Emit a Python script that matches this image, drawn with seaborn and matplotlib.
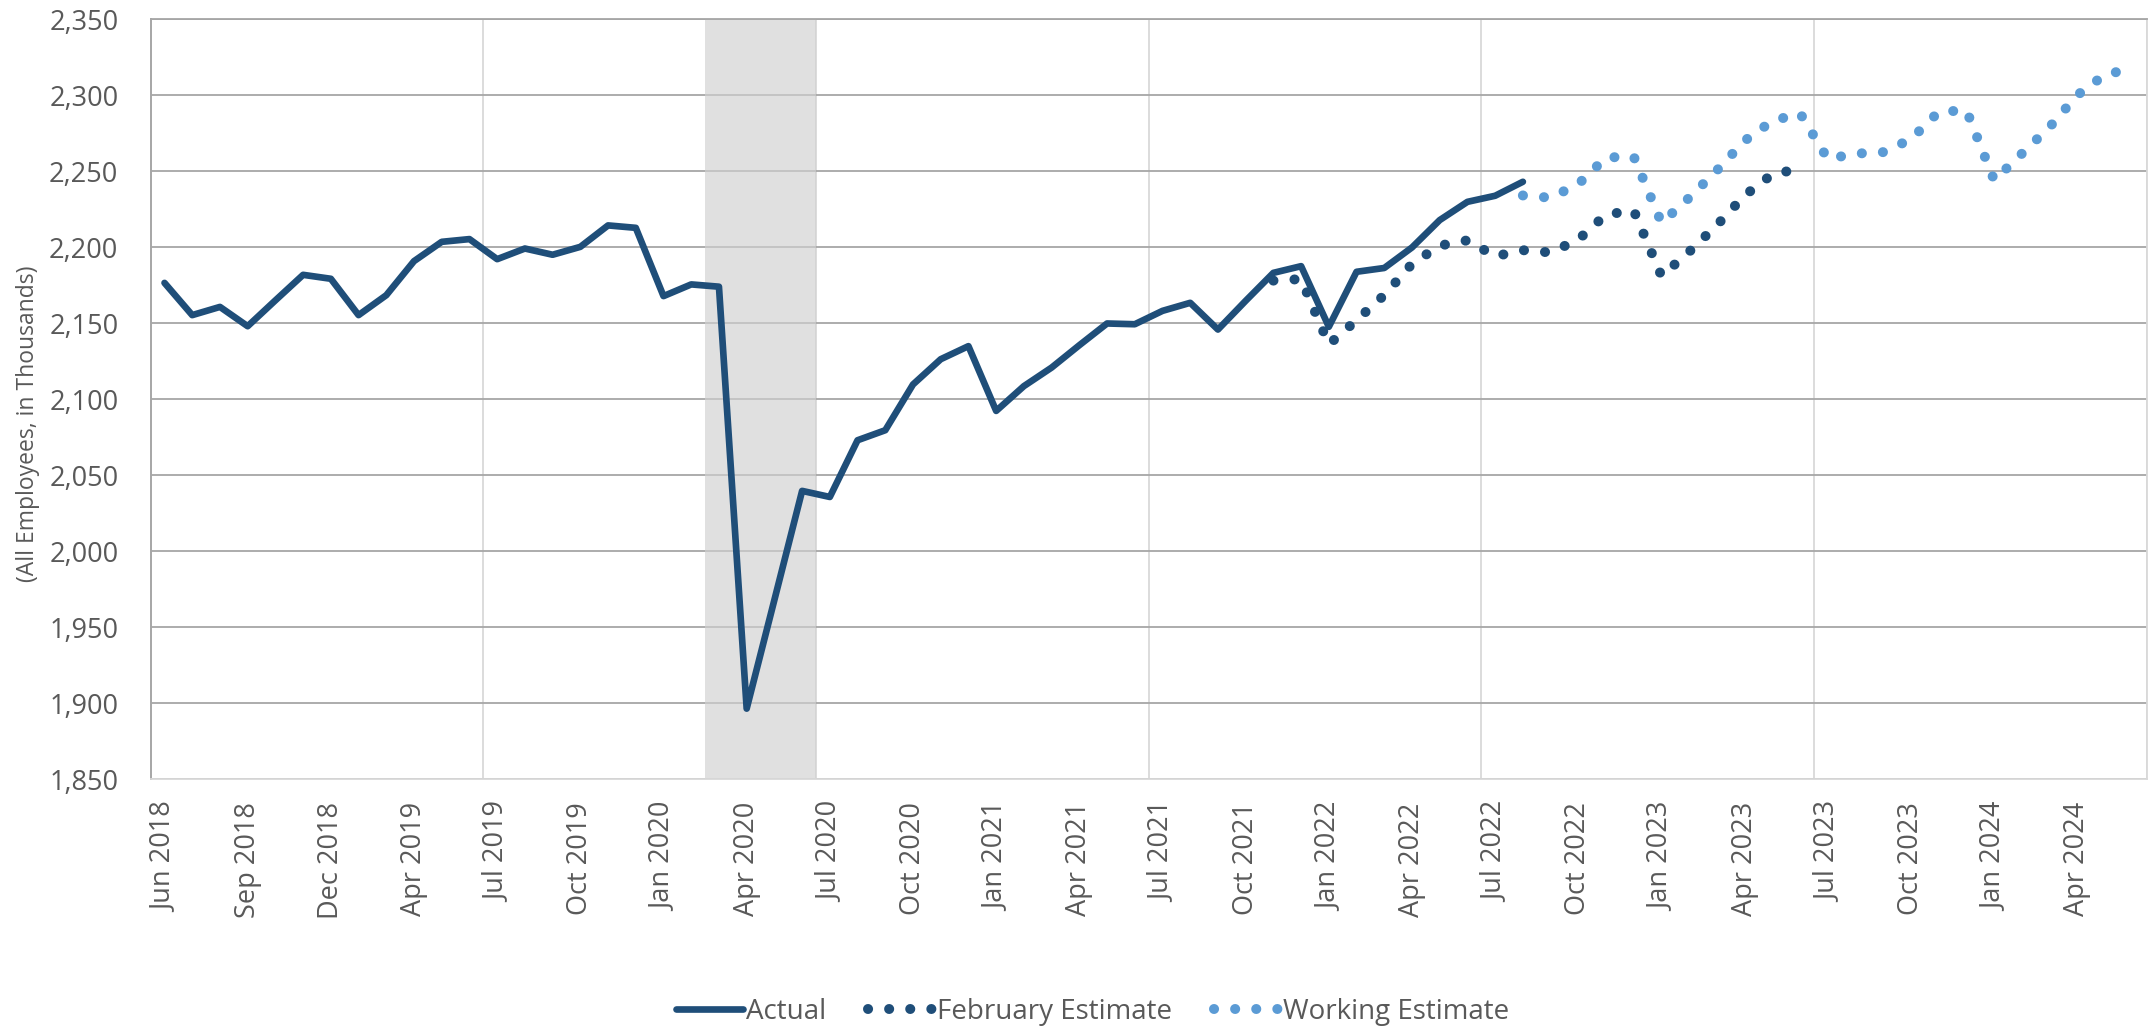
import pandas as pd
import numpy as np
import matplotlib
matplotlib.use("Agg")
import matplotlib.pyplot as plt
from matplotlib.ticker import FixedLocator, FuncFormatter, MultipleLocator
import seaborn as sns

# categories (one month is missing in the source data between Dec 2018 and Apr 2019)
early_months = ["Jun 2018", "Jul 2018", "Aug 2018", "Sep 2018", "Oct 2018",
                "Nov 2018", "Dec 2018", "Jan 2019", "Feb 2019"]
later_months = pd.date_range("2019-04-01", "2024-06-01", freq="MS").strftime("%b %Y").tolist()
months = early_months + later_months

actual = [2176.5, 2155.3, 2160.7, 2148.0, 2165.0, 2181.8, 2179.2, 2155.3, 2168.4, 2190.8,
          2203.5, 2205.3, 2192.1, 2199.1, 2195.0, 2200.2, 2214.3, 2212.7, 2167.8, 2175.5,
          2174.0, 1896.5, 1968.0, 2039.7, 2035.7, 2073.0, 2079.6, 2109.7, 2126.3, 2134.9,
          2092.3, 2108.6, 2120.8, 2135.5, 2149.8, 2149.3, 2158.1, 2163.4, 2145.8, 2164.7,
          2183.1, 2187.5, 2147.6, 2183.8, 2186.3, 2199.8, 2217.8, 2229.8, 2233.8, 2243.0]
feb_start = "Nov 2021"
feb_estimate = [2178.0, 2179.0, 2136.0, 2152.0, 2168.5, 2189.0, 2201.0, 2204.5, 2194.0, 2198.0,
                2196.5, 2205.0, 2221.5, 2224.0, 2181.0, 2197.0, 2214.5, 2234.0, 2248.0, 2251.5]
work_start = "Aug 2022"
working_estimate = [2234.0, 2232.5, 2241.5, 2259.0, 2259.5, 2216.0, 2232.5, 2250.5, 2270.0, 2283.0,
                    2288.0, 2258.0, 2261.5, 2262.5, 2271.0, 2289.0, 2290.0, 2244.0, 2261.5, 2279.0,
                    2300.0, 2313.5, 2317.5]
recession = ["Mar 2020", "Jun 2020"]

DARK = "#1F4E79"
LIGHT = "#5B9BD5"
TXT = "#595959"

sns.set_style("white")
plt.rcParams["font.family"] = ["Open Sans", "DejaVu Sans"]

idx = {m: i for i, m in enumerate(months)}
df_act = pd.DataFrame({"x": range(len(actual)), "y": actual})
f0 = idx[feb_start]
df_feb = pd.DataFrame({"x": range(f0, f0 + len(feb_estimate)), "y": feb_estimate})
w0 = idx[work_start]
df_work = pd.DataFrame({"x": range(w0, w0 + len(working_estimate)), "y": working_estimate})

fig = plt.figure(figsize=(21.49, 10.31), dpi=100)
ax = fig.add_axes([0.0701, 0.2441, 0.9288, 0.7374])

ax.axvspan(idx[recession[0]] - 0.5, idx[recession[1]] + 0.5, color="#D0D0D0", alpha=0.65,
           lw=0, zorder=1)

dots = (0, (0.01, 2.1))
sns.lineplot(data=df_act, x="x", y="y", ax=ax, color=DARK, lw=4.8, label="Actual",
             solid_joinstyle="round", solid_capstyle="round", zorder=4)
sns.lineplot(data=df_feb, x="x", y="y", ax=ax, color=DARK, lw=7.2, linestyle=dots,
             dash_capstyle="round", label="February Estimate", zorder=3)
sns.lineplot(data=df_work, x="x", y="y", ax=ax, color=LIGHT, lw=7.2, linestyle=dots,
             dash_capstyle="round", label="Working Estimate", zorder=3)

n = len(months)
ax.set_xlim(-0.5, n - 0.5)
ax.set_ylim(1850, 2350)

# y axis
ax.yaxis.set_major_locator(MultipleLocator(50))
ax.yaxis.set_minor_locator(MultipleLocator(10))
ax.yaxis.set_major_formatter(FuncFormatter(lambda v, p: f"{v:,.0f}"))
ax.tick_params(axis="y", which="major", direction="inout", length=11.5, width=1.1,
               color="#A6A6A6", labelsize=19.5, labelcolor=TXT, pad=17.5)
ax.tick_params(axis="y", which="minor", direction="in", length=4.8, width=1.1, color="#A6A6A6")
ax.grid(axis="y", which="major", color="#A6A6A6", lw=1.3, zorder=0)

# x axis
ax.xaxis.set_major_locator(FixedLocator(range(0, n, 3)))
ax.set_xticklabels(months[::3], rotation=90)
ax.xaxis.set_minor_locator(FixedLocator(np.arange(-0.5, n, 6)))
ax.tick_params(axis="x", which="major", length=0, labelsize=19.5, labelcolor=TXT, pad=16.5)
ax.tick_params(axis="x", which="minor", direction="out", length=5, width=1.1, color="#D9D9D9")
for xv in np.arange(11.5, n, 12):
    ax.axvline(xv, color="#D9D9D9", lw=1.3, zorder=0)

ax.set_xlabel("")
ax.set_ylabel("")
ax.spines["top"].set_color("#A6A6A6")
ax.spines["top"].set_linewidth(1.3)
ax.spines["left"].set_color("#A6A6A6")
ax.spines["left"].set_linewidth(1.4)
ax.spines["bottom"].set_color("#D9D9D9")
ax.spines["bottom"].set_linewidth(1.3)
ax.spines["right"].set_color("#D9D9D9")
ax.spines["right"].set_linewidth(1.3)

fig.text(28 / 2149, 1 - 424 / 1031, "(All Employees, in Thousands)", rotation=90,
         ha="center", va="center", fontsize=16.5, color=TXT)

handles, labels = ax.get_legend_handles_labels()
ax.get_legend().remove()
fig.legend(handles, labels, loc="center", bbox_to_anchor=(1093 / 2149, 1 - 1011.7 / 1031),
           ncol=3, frameon=False, fontsize=20, handlelength=2.4, handletextpad=0.1,
           columnspacing=1.5, labelcolor=TXT)

fig.savefig("out.png", dpi=100)
